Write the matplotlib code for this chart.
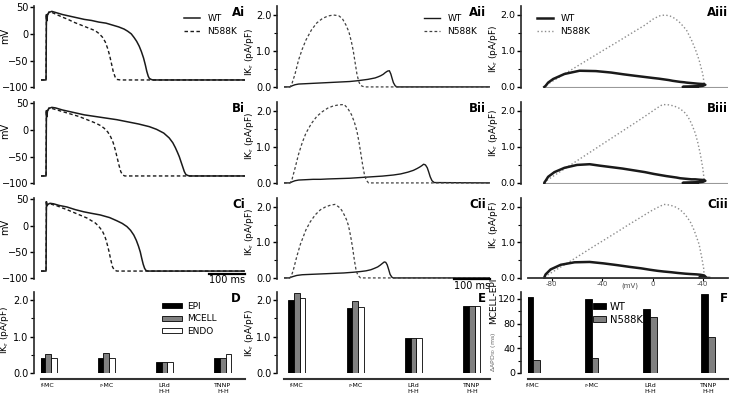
import matplotlib
matplotlib.use('Agg')
import matplotlib.pyplot as plt
from matplotlib.ticker import MultipleLocator, FormatStrFormatter

# ---- action potential (mV) and IKr (pA/pF) traces ----
# model A (f-MC)
tA_wt = [0, 14, 15, 16, 18, 22, 30, 40, 60, 80, 100, 120, 140, 160, 180, 200, 215, 230, 240, 250,
         258, 265, 272, 278, 284, 289, 293, 297, 300, 305, 310, 565]
vA_wt = [-86, -86, 36, 24, 35, 40, 42, 40, 36, 33, 30, 27, 25, 22, 20, 16, 13, 9, 5, 0,
         -7, -14, -23, -33, -45, -58, -70, -79, -83, -85, -86, -86]
iA_wt = [0, 0, 0, 0, 0.01, 0.03, 0.06, 0.08, 0.09, 0.1, 0.11, 0.12, 0.13, 0.14, 0.15, 0.17, 0.19, 0.21, 0.23, 0.25,
         0.28, 0.31, 0.35, 0.4, 0.44, 0.45, 0.36, 0.22, 0.12, 0.03, 0, 0]
tA_mut = [0, 14, 15, 16, 18, 22, 30, 40, 50, 60, 75, 90, 105, 120, 135, 150, 160, 170, 178, 185,
          190, 195, 200, 205, 210, 220, 565]
vA_mut = [-86, -86, 36, 24, 35, 41, 40, 37, 34, 31, 27, 22, 18, 14, 10, 6, 1, -6, -15, -28,
          -40, -55, -70, -80, -85, -86, -86]
iA_mut = [0, 0, 0, 0, 0.02, 0.1, 0.35, 0.75, 1.05, 1.3, 1.58, 1.78, 1.9, 1.97, 2.0, 1.98, 1.9, 1.72, 1.53, 1.25,
          1.0, 0.68, 0.36, 0.15, 0.04, 0, 0]

# model B (r-MC)
tB_wt = [0, 14, 15, 16, 18, 22, 30, 40, 60, 80, 100, 120, 150, 180, 210, 240, 270, 300, 320, 340,
         355, 365, 372, 378, 383, 388, 393, 397, 401, 406, 412, 565]
vB_wt = [-86, -86, 36, 24, 35, 40, 42, 41, 37, 34, 31, 28, 25, 22, 19, 15, 11, 6, 1, -6,
         -15, -24, -33, -42, -50, -60, -70, -78, -83, -85, -86, -86]
iB_wt = [0, 0, 0, 0, 0.01, 0.03, 0.06, 0.08, 0.09, 0.1, 0.1, 0.11, 0.12, 0.13, 0.15, 0.17, 0.19, 0.22, 0.25, 0.3,
         0.35, 0.4, 0.44, 0.48, 0.52, 0.5, 0.42, 0.3, 0.17, 0.06, 0.01, 0]
tB_mut = [0, 14, 15, 16, 18, 22, 30, 40, 50, 60, 75, 90, 105, 120, 135, 150, 165, 175, 185, 193,
          200, 206, 211, 216, 221, 226, 232, 565]
vB_mut = [-86, -86, 36, 24, 35, 41, 40, 38, 36, 34, 31, 28, 25, 21, 17, 13, 8, 3, -4, -13,
          -24, -38, -52, -66, -78, -84, -86, -86]
iB_mut = [0, 0, 0, 0, 0.02, 0.1, 0.4, 0.8, 1.12, 1.38, 1.65, 1.85, 1.98, 2.08, 2.14, 2.17, 2.18, 2.07, 1.9, 1.69,
          1.44, 1.12, 0.8, 0.48, 0.21, 0.07, 0, 0]

# model C
tC_wt = [0, 14, 15, 16, 19, 25, 35, 50, 72, 95, 118, 140, 164, 190, 210, 225, 238, 248, 257, 264,
         270, 275, 279, 283, 287, 291, 296, 300, 565]
vC_wt = [-86, -86, 45, 37, 40, 42, 41, 38, 35, 30, 26, 23, 20, 15, 9, 4, -2, -9, -18, -28,
         -39, -50, -62, -73, -81, -85, -86, -86, -86]
iC_wt = [0, 0, 0, 0.01, 0.02, 0.04, 0.07, 0.09, 0.1, 0.11, 0.12, 0.13, 0.14, 0.16, 0.18, 0.2, 0.23, 0.27, 0.31, 0.36,
         0.41, 0.45, 0.44, 0.37, 0.24, 0.1, 0.02, 0, 0]
tC_mut = [0, 14, 15, 16, 19, 25, 35, 45, 60, 72, 86, 100, 114, 128, 140, 150, 158, 165, 171, 176,
          180, 184, 188, 193, 198, 203, 210, 565]
vC_mut = [-86, -86, 45, 37, 40, 41, 39, 37, 33, 30, 26, 22, 18, 14, 9, 5, 0, -6, -12, -19,
          -27, -37, -48, -64, -78, -84, -86, -86]
iC_mut = [0, 0, 0, 0, 0.03, 0.2, 0.6, 0.95, 1.35, 1.58, 1.78, 1.92, 2.0, 2.05, 2.07, 2.0, 1.91, 1.78, 1.65, 1.5,
          1.32, 1.1, 0.86, 0.5, 0.2, 0.07, 0, 0]

# ---- bar panels ----
models = ['f-MC', 'r-MC', 'LRd\nH-H', 'TNNP\nH-H']
epi_d = [0.41, 0.41, 0.31, 0.41]
mcell_d = [0.51, 0.55, 0.31, 0.41]
endo_d = [0.41, 0.41, 0.31, 0.51]
epi_e = [2.0, 1.78, 0.97, 1.83]
mcell_e = [2.18, 1.96, 0.97, 1.85]
endo_e = [2.05, 1.81, 0.97, 1.85]
dapd_wt = [123, 119, 103, 127]
dapd_mut = [21, 25, 91, 58]

W, H = 730.0, 400.0
IKR = 'IK$_\\mathregular{r}$ (pA/pF)'


def add_ax(fig, x0, y0, x1, y1):
    return fig.add_axes([x0 / W, 1 - y1 / H, (x1 - x0) / W, (y1 - y0) / H])


def style(ax, bottom=False):
    for s in ['top', 'right']:
        ax.spines[s].set_visible(False)
    ax.spines['bottom'].set_visible(bottom)
    ax.spines['left'].set_position(('outward', 5))
    ax.spines['left'].set_linewidth(1.2)
    ax.spines['left'].set_color('0.15')
    ax.tick_params(axis='y', which='major', labelsize=7, length=3, width=1, pad=1)
    ax.tick_params(axis='y', which='minor', length=2, width=0.8)
    if not bottom:
        ax.set_xticks([])


def panel_label(ax, text, x=1.0):
    ax.text(x, 1.0, text, transform=ax.transAxes, ha='right', va='top',
            fontsize=8.5, fontweight='bold')


def ikr_axis(ax):
    ax.set_ylim(-0.03, 2.25)
    ax.set_yticks([0, 1, 2])
    ax.yaxis.set_minor_locator(MultipleLocator(0.5))
    ax.yaxis.set_major_formatter(FormatStrFormatter('%.1f'))


def ylab(x, y, text):
    fig.text(x / W, 1 - y / H, text, rotation=90, ha='center', va='center', fontsize=6.5)


fig = plt.figure(figsize=(7.3, 4.0), dpi=100)

rows = [(6, 88), (102, 184), (198, 279)]
cols = [(41, 245), (284, 490), (528, 728)]
traces = [(tA_wt, vA_wt, iA_wt, tA_mut, vA_mut, iA_mut),
          (tB_wt, vB_wt, iB_wt, tB_mut, vB_mut, iB_mut),
          (tC_wt, vC_wt, iC_wt, tC_mut, vC_mut, iC_mut)]
letters = ['A', 'B', 'C']
mv_y = [36, 131, 227]
ikr_y2 = [52, 136, 232]
ikr_y3 = [49, 133, 225]
leg_kw = dict(loc='upper left', frameon=False, fontsize=6.5, handlelength=1.8, handletextpad=0.8,
              labelspacing=0.45, borderpad=0, borderaxespad=0)

for r in range(3):
    t_wt, v_wt, i_wt, t_mut, v_mut, i_mut = traces[r]
    y0, y1 = rows[r]

    # column i: action potentials
    ax = add_ax(fig, cols[0][0], y0, cols[0][1], y1)
    style(ax)
    ax.plot(t_wt, v_wt, color='0.1', lw=1.1, label='WT')
    ax.plot(t_mut, v_mut, color='0.1', lw=1.0, dashes=(2.5, 1.8), label='N588K')
    ax.set_xlim(0, 565)
    ax.set_ylim(-101, 52)
    ax.set_yticks([-100, -50, 0, 50])
    panel_label(ax, letters[r] + 'i')
    fig.text(5 / W, 1 - mv_y[r] / H, 'mV', rotation=90, ha='center', va='center', fontsize=7)
    if r == 0:
        ax.legend(bbox_to_anchor=(0.70, 0.90), **leg_kw)
    if r == 2:
        ax.plot([465, 565], [-92, -92], color='black', lw=1.6, clip_on=False)
        ax.text(515, -94, '100 ms', ha='center', va='top', fontsize=7)

    # column ii: IKr vs time
    ax = add_ax(fig, cols[1][0], y0, cols[1][1], y1)
    style(ax)
    ax.plot(t_wt, i_wt, color='0.1', lw=1.0, label='WT')
    ax.plot(t_mut, i_mut, color='0.25', lw=0.9, dashes=(2.2, 1.8), label='N588K')
    ax.set_xlim(0, 565)
    ikr_axis(ax)
    panel_label(ax, letters[r] + 'ii', x=0.98)
    ylab(250, ikr_y2[r], IKR)
    if r == 0:
        ax.legend(bbox_to_anchor=(0.68, 0.90), **leg_kw)
    if r == 2:
        ax.plot([465, 565], [-0.04, -0.04], color='black', lw=1.6, clip_on=False)
        ax.text(515, -0.08, '100 ms', ha='center', va='top', fontsize=7)

    # column iii: IKr vs voltage (loop drawn from the upstroke on)
    ax = add_ax(fig, cols[2][0], y0, cols[2][1], y1)
    style(ax, bottom=(r == 2))
    ax.axhline(0, xmin=(min(v_wt) - 1 + 99) / 159.0, color='0.6', lw=0.8)
    ax.plot(v_mut[2:], i_mut[2:], color='0.55', lw=1.0, ls=':', label='N588K')
    ax.plot(v_wt[2:], i_wt[2:], color='0.1', lw=1.8, label='WT')
    ax.set_xlim(-99, 60)
    ikr_axis(ax)
    ax.tick_params(axis='y', which='major', labelsize=6.8)
    panel_label(ax, letters[r] + 'iii')
    ylab(494, ikr_y3[r], IKR)
    if r == 0:
        h, l = ax.get_legend_handles_labels()
        ax.legend(h[::-1], l[::-1], bbox_to_anchor=(0.045, 0.90), **leg_kw)
    if r == 2:
        ax.spines['bottom'].set_position(('data', 0))
        ax.spines['bottom'].set_linewidth(1.3)
        ax.spines['bottom'].set_color('0.2')
        ax.set_xticks([-80, -40, 0, 40])
        ax.set_xticklabels(['-80', '-40', '0', '-40'])
        ax.tick_params(axis='x', labelsize=5, length=2, pad=0.5, labelcolor='0.3')
        fig.text(630 / W, 1 - 286 / H, '(mV)', ha='center', va='center', fontsize=5, color='0.3')


def bar_axes(x0, x1, xlo, xhi):
    ax = add_ax(fig, x0, 292, x1, 373)
    style(ax, bottom=True)
    ax.spines['bottom'].set_position(('outward', 4))
    ax.spines['bottom'].set_linewidth(1.5)
    ax.spines['bottom'].set_color('0.2')
    ax.set_xticks(range(len(models)))
    ax.set_xticklabels(models)
    ax.tick_params(axis='x', length=0, labelsize=4.5, pad=3)
    ax.set_xlim(xlo, xhi)
    return ax


xs = list(range(len(models)))
bw = 0.098

# D
ax = bar_axes(41, 245, -0.12, 3.38)
ax.bar([x - bw for x in xs], epi_d, bw, color='black', edgecolor='black', lw=0.6, label='EPI')
ax.bar(xs, mcell_d, bw, color='0.5', edgecolor='black', lw=0.6, label='MCELL')
ax.bar([x + bw for x in xs], endo_d, bw, color='white', edgecolor='black', lw=0.6, label='ENDO')
ikr_axis(ax)
ax.set_ylim(0, 2.22)
panel_label(ax, 'D', x=0.98)
ax.legend(loc='upper left', bbox_to_anchor=(0.593, 0.88), frameon=False, fontsize=6.5,
          handlelength=2.2, handleheight=0.5, handletextpad=0.6, labelspacing=0.4,
          borderpad=0, borderaxespad=0)
ylab(5, 330, IKR)

# E
ax = bar_axes(284, 490, -0.22, 3.31)
ax.bar([x - bw for x in xs], epi_e, bw, color='black', edgecolor='black', lw=0.6)
ax.bar(xs, mcell_e, bw, color='0.5', edgecolor='black', lw=0.6)
ax.bar([x + bw for x in xs], endo_e, bw, color='white', edgecolor='black', lw=0.6)
ikr_axis(ax)
ax.set_ylim(0, 2.22)
panel_label(ax, 'E', x=0.98)
ylab(250, 333, IKR)

# F
fw = 0.115
ax = bar_axes(528, 728, -0.09, 3.34)
ax.bar([x - fw / 2 for x in xs], dapd_wt, fw, color='black', edgecolor='black', lw=0.6, label='WT')
ax.bar([x + fw / 2 for x in xs], dapd_mut, fw, color='0.5', edgecolor='black', lw=0.6, label='N588K')
ax.set_ylim(0, 131)
ax.set_yticks([0, 40, 80, 120])
ax.yaxis.set_minor_locator(MultipleLocator(20))
ax.tick_params(axis='y', which='major', labelsize=6.8)
panel_label(ax, 'F')
ax.legend(loc='upper left', bbox_to_anchor=(0.325, 0.88), frameon=False, fontsize=7.2,
          handlelength=1.3, handleheight=0.6, handletextpad=0.4, labelspacing=0.3,
          borderpad=0, borderaxespad=0)
fig.text(494 / W, 1 - 372 / H, '$\\Delta$APD$_{90}$ (ms) ', rotation=90, rotation_mode='anchor',
         ha='left', va='center', fontsize=4.5, color='0.4')
fig.text(494 / W, 1 - 324 / H, 'MCELL-EPI', rotation=90, rotation_mode='anchor',
         ha='left', va='center', fontsize=6.5)

fig.savefig('out.png', dpi=100)
